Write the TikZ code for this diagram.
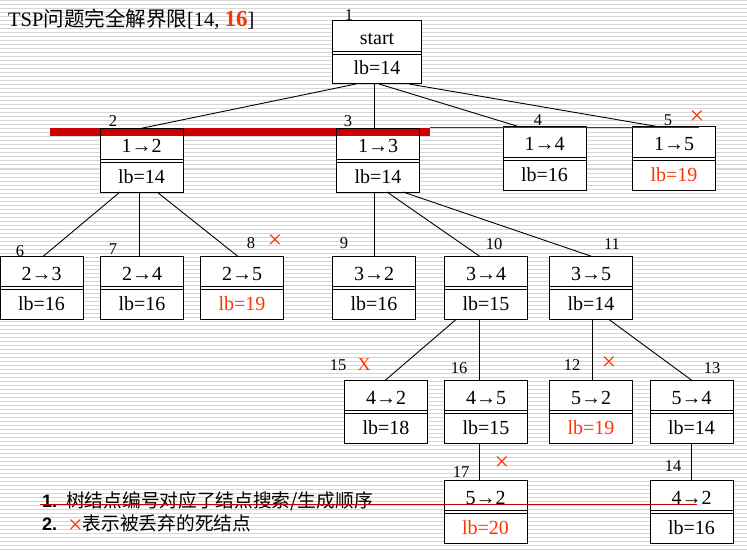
\documentclass[tikz,border=0pt]{standalone}
\usepackage{fontspec}
\setmainfont{Liberation Serif}
\setsansfont{Liberation Sans}
\newfontfamily\cjk{Noto Sans CJK SC}
\usetikzlibrary{calc}
\definecolor{barred}{HTML}{CC0000}
\definecolor{markred}{HTML}{FF3300}
\definecolor{ruleline}{HTML}{D6D6D6}

\tikzset{
  tbox/.style={draw, line width=1pt, fill=white, minimum width=83pt,
    minimum height=63pt, inner sep=0pt, outer sep=0pt},
  sepline/.style={line width=0.9pt},
  boxtext/.style={inner sep=0pt, font=\fontsize{20}{20}\selectfont},
  numlab/.style={inner sep=0pt, font=\fontsize{16.5}{16}\selectfont},
  xmark/.style={inner sep=0pt, text=markred, font=\fontsize{26}{26}\selectfont},
  edge/.style={line width=0.9pt},
  bgline/.style={draw=ruleline, line width=1pt},
}

% a search-tree node: box with the move on top, the lower bound below
\newcommand\treenode[6][83]{%
  \node[tbox, minimum width=#1pt] (#2) at (#3) {};
  \draw[sepline] ([yshift=1.5pt]#2.west) -- ([yshift=1.5pt]#2.east)
                 ([yshift=-1.5pt]#2.west) -- ([yshift=-1.5pt]#2.east);
  \node[boxtext, anchor=base] (#2-move) at ([yshift=7.5pt]#2.center) {#4};
  \node[boxtext, anchor=base, text=#6] (#2-lb) at ([yshift=-22.5pt]#2.center) {#5};
}

\begin{document}
\begin{tikzpicture}[x=1pt, y=-1pt]
\useasboundingbox (0,0) rectangle (747,559);
\fill[white] (0,0) rectangle (747,559);

% ruled paper background
\foreach \yy in {1,5,...,549} \draw[bgline] (0,\yy) -- (747,\yy);

% title
\node[anchor=base west, inner sep=0pt] (title) at (8,27)
  {\fontsize{20.5}{20}\selectfont TSP{\cjk\fontsize{20.5}{20}\selectfont 问题完全解界限}[14,
   {\color{markred}\bfseries\fontsize{23}{23}\selectfont 16}]};

% tree nodes
\treenode[89]{n1}{377,52.5}{start}{lb=14}{black}
\treenode{n2}{141.5,160.5}{1→2}{lb=14}{black}
\treenode{n3}{378,160.5}{1→3}{lb=14}{black}
\treenode{n4}{544.5,158.5}{1→4}{lb=16}{black}
\treenode{n5}{674,158.5}{1→5}{lb=19}{markred}
\treenode{n6}{41.5,288}{2→3}{lb=16}{black}
\treenode{n7}{142,288}{2→4}{lb=16}{black}
\treenode{n8}{242,288}{2→5}{lb=19}{markred}
\treenode{n9}{374,288}{3→2}{lb=16}{black}
\treenode{n10}{486,288}{3→4}{lb=15}{black}
\treenode{n11}{591,288}{3→5}{lb=14}{black}
\treenode{n15}{386,412}{4→2}{lb=18}{black}
\treenode{n16}{486,412}{4→5}{lb=15}{black}
\treenode{n12}{591,412}{5→2}{lb=19}{markred}
\treenode{n13}{691.5,412}{5→4}{lb=14}{black}
\treenode{n17}{485.5,512}{5→2}{lb=20}{markred}
\treenode{n14}{691.5,512}{4→2}{lb=16}{black}

% tree edges
\draw[edge] ([xshift=-21pt]n1.south) -- ([xshift=-3.5pt]n2.north);
\draw[edge] ([xshift=-3pt]n1.south) -- ([xshift=-4pt]n3.north);
\draw[edge] ([xshift=2pt]n1.south) -- ([xshift=-24.5pt]n4.north);
\draw[edge] ([xshift=32pt]n1.south) -- ([xshift=-14pt]n5.north);
\draw[edge] ([xshift=-21.5pt]n2.south) -- ([xshift=1.5pt]n6.north);
\draw[edge] ([xshift=-2.5pt]n2.south) -- ([xshift=-3pt]n7.north);
\draw[edge] ([xshift=15.5pt]n2.south) -- ([xshift=-4pt]n8.north);
\draw[edge] ([xshift=-4pt]n3.south) -- (n9.north);
\draw[edge] ([xshift=9pt]n3.south) -- ([xshift=-6pt]n10.north);
\draw[edge] ([xshift=25pt]n3.south) -- ([xshift=1pt]n11.north);
\draw[edge] ([xshift=-30pt]n10.south) -- ([xshift=-1pt]n15.north);
\draw[edge] ([xshift=-7pt]n10.south) -- ([xshift=-7pt]n16.north);
\draw[edge] ([xshift=1pt]n11.south) -- ([xshift=1pt]n12.north);
\draw[edge] ([xshift=18pt]n11.south) -- ([xshift=0.5pt]n13.north);
\draw[edge] ([xshift=-7pt]n16.south) -- ([xshift=-6.5pt]n17.north);
\draw[edge] ([xshift=-0.5pt]n13.south) -- ([xshift=-0.5pt]n14.north);

% red cut marks across the first level
\coordinate (barL) at (50,132);
\coordinate (barR) at (430,132);
\coordinate (cutL) at (430,128);
\coordinate (cutR) at (699,128);
\draw[barred, line width=8pt] (barL) -- (barR);
\draw[line width=1pt] (n2.north west) rectangle (n2.south east);
\draw[line width=1pt] (n3.north west) rectangle (n3.south east);
\draw[barred, line width=1pt] (cutL) -- (cutR);

% order numbers
\node[numlab] (l1) at (349,15) {1};
\node[numlab] (l2) at (113,121) {2};
\node[numlab] (l3) at (348,121) {3};
\node[numlab] (l4) at (538,120) {4};
\node[numlab] (l5) at (668,120) {5};
\node[numlab] (l6) at (20,251) {6};
\node[numlab] (l7) at (113,249) {7};
\node[numlab] (l8) at (251,243) {8};
\node[numlab] (l9) at (344,243) {9};
\node[numlab] (l10) at (494,244) {10};
\node[numlab] (l11) at (612,244) {11};
\node[numlab] (l15) at (338,365) {15};
\node[numlab] (l16) at (459,368) {16};
\node[numlab] (l12) at (572,365) {12};
\node[numlab] (l13) at (712,368) {13};
\node[numlab] (l17) at (461,472) {17};
\node[numlab] (l14) at (673,466) {14};

% pruned-node marks
\node[xmark] (x5) at (697,118) {×};
\node[xmark] (x8) at (275,242) {×};
\node[xmark, font=\fontsize{18}{18}\selectfont] (x15) at (364,365) {X};
\node[xmark] (x12) at (609,364) {×};
\node[xmark] (x17) at (502,464) {×};

% notes
\node[anchor=base west, inner sep=0pt] (note1) at (42,507)
  {\fontsize{18}{18}\selectfont\sffamily\bfseries 1.\hspace{9pt}{\cjk\mdseries\fontsize{18.7}{18}\selectfont 树结点编号对应了结点搜索/生成顺序}};
\node[anchor=base west, inner sep=0pt] (note2) at (42,530)
  {\fontsize{18}{18}\selectfont\sffamily\bfseries 2.\hspace{11pt}{\mdseries\color{markred}\fontsize{26}{18}\selectfont\rmfamily\raisebox{-3.5pt}{×}}{\cjk\mdseries\fontsize{18.7}{18}\selectfont 表示被丢弃的死结点}};

% strike line through the first note
\coordinate (strikeL) at (40,504);
\coordinate (strikeR) at (697,504);
\draw[barred, line width=1pt] (strikeL) -- (strikeR);
\end{tikzpicture}
\end{document}
